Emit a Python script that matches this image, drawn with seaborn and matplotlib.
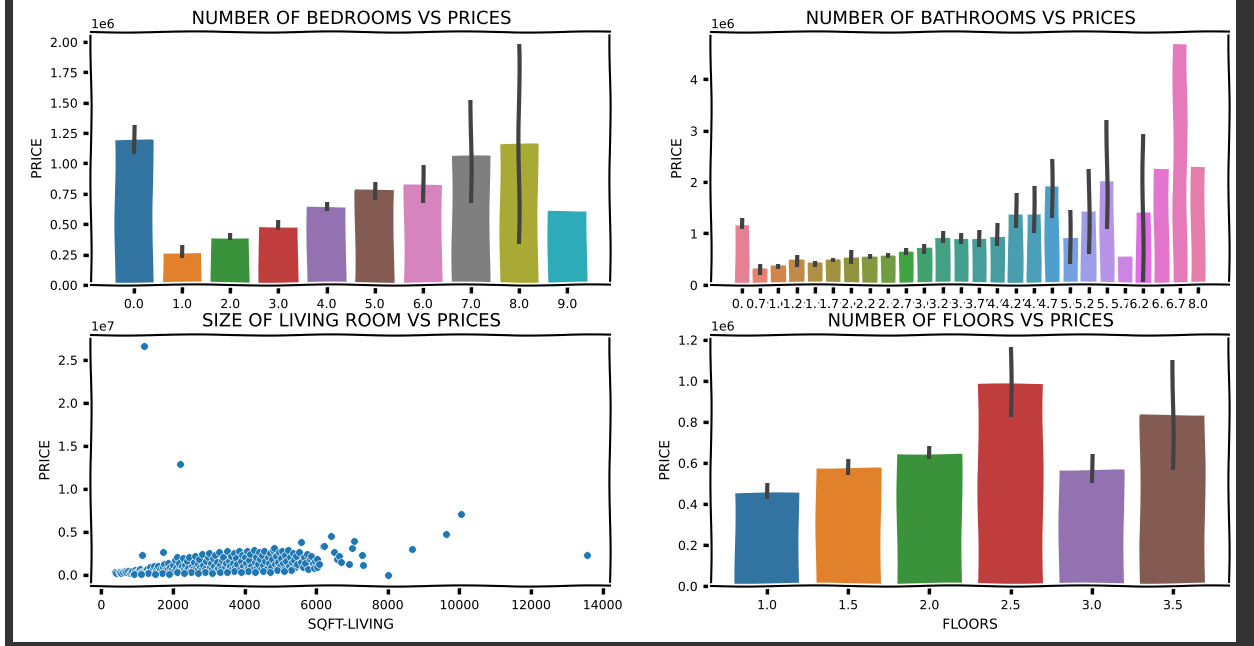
import numpy as np
import pandas as pd
import matplotlib
matplotlib.use("Agg")
import matplotlib.pyplot as plt
from matplotlib.patches import Rectangle
import seaborn as sns

# ---------------- data ----------------
bedroom_labels = ["0.0", "1.0", "2.0", "3.0", "4.0", "5.0", "6.0", "7.0", "8.0", "9.0"]
bedroom_price = [1.19, 0.26, 0.39, 0.48, 0.64, 0.78, 0.82, 1.06, 1.16, 0.61]          # 1e6
bedroom_ci_lo = [1.08, 0.22, 0.37, 0.45, 0.61, 0.70, 0.67, 0.67, 0.34, np.nan]
bedroom_ci_hi = [1.32, 0.33, 0.43, 0.53, 0.68, 0.85, 0.99, 1.52, 1.98, np.nan]

bath_labels = ["0.0", "0.75", "1.0", "1.25", "1.5", "1.75", "2.0", "2.25", "2.5", "2.75",
               "3.0", "3.25", "3.5", "3.75", "4.0", "4.25", "4.5", "4.75", "5.0", "5.25",
               "5.5", "5.75", "6.25", "6.5", "6.75", "8.0"]
bath_price = [1.16, 0.31, 0.36, 0.49, 0.42, 0.49, 0.53, 0.55, 0.57, 0.64,
              0.72, 0.91, 0.89, 0.89, 0.94, 1.37, 1.37, 1.93, 0.91, 1.43,
              2.03, 0.55, 1.41, 2.26, 4.68, 2.30]
bath_ci_lo = [1.08, 0.20, 0.30, 0.35, 0.35, 0.44, 0.40, 0.50, 0.53, 0.58,
              0.60, 0.82, 0.80, 0.73, 0.75, 1.10, 1.00, 1.30, 0.40, 0.60,
              1.08, np.nan, 0.05, np.nan, np.nan, np.nan]
bath_ci_hi = [1.30, 0.40, 0.40, 0.58, 0.47, 0.53, 0.68, 0.60, 0.62, 0.72,
              0.80, 1.05, 1.00, 1.07, 1.20, 1.78, 1.93, 2.45, 1.45, 2.25,
              3.20, np.nan, 2.93, np.nan, np.nan, np.nan]

floor_labels = ["1.0", "1.5", "2.0", "2.5", "3.0", "3.5"]
floor_price = [0.453, 0.577, 0.645, 0.985, 0.564, 0.831]
floor_ci_lo = [0.426, 0.540, 0.620, 0.823, 0.504, 0.564]
floor_ci_hi = [0.500, 0.620, 0.680, 1.166, 0.641, 1.100]

sqft_living = [
    370, 420, 480, 520, 560, 610, 650, 700, 740, 790,
    820, 860, 900, 940, 980, 1010, 1050, 1090, 1120, 1126, 1150, 1180, 1190,
    1220, 1250, 1280, 1310, 1340, 1370, 1400, 1430, 1460, 1500, 1530, 1560, 1590,
    1620, 1650, 1680, 1715, 1720, 1750, 1780, 1810, 1840, 1870, 1900, 1930, 1960, 1990,
    2020, 2050, 2080, 2108, 2130, 2160, 2190, 2200, 2240, 2270, 2300, 2330, 2360, 2390, 2420, 2450, 2480,
    2520, 2550, 2580, 2610, 2640, 2670, 2700, 2730, 2760, 2790, 2820, 2850, 2880, 2910, 2940, 2970,
    2994, 3020, 3050, 3080, 3110, 3140, 3170, 3200, 3230, 3260, 3290, 3320, 3350, 3380, 3410, 3440, 3470,
    3500, 3530, 3560, 3590, 3620, 3650, 3680, 3710, 3740, 3770, 3800, 3830, 3860, 3890, 3920, 3950, 3980,
    4010, 4040, 4070, 4100, 4130, 4160, 4190, 4220, 4250, 4280, 4310, 4340, 4370, 4400, 4430, 4460, 4490,
    4520, 4550, 4580, 4610, 4640, 4670, 4700, 4730, 4760, 4790, 4816, 4840, 4870, 4900, 4930, 4960, 4990,
    5020, 5050, 5080, 5110, 5140, 5170, 5200, 5230, 5260, 5290, 5320, 5350, 5380, 5410, 5440, 5470,
    5520, 5564, 5580, 5620, 5660, 5700, 5740, 5780, 5820, 5860, 5900, 5940, 5980, 6030, 6030, 6080,
    6200, 6218, 6424, 6500, 6592, 6650, 6700, 6918, 6990, 7059, 7265, 7293, 8012, 8675, 9628, 10057, 13552,
    900, 1300, 1700, 2100, 2500, 2900, 3300, 3700, 4100, 4500, 4900, 5300,
    1100, 1500, 1900, 2300, 2700, 3100, 3500, 3900, 4300, 4700, 5100,
]
price_musd = [
    0.28, 0.15, 0.25, 0.35, 0.20, 0.30, 0.45, 0.25, 0.38, 0.18,
    0.30, 0.42, 0.22, 0.55, 0.35, 0.28, 0.48, 0.60, 0.33, 2.30, 0.45, 26.59, 0.25,
    0.38, 0.52, 0.70, 0.30, 0.45, 0.85, 0.40, 0.60, 0.95, 0.28, 0.50, 0.75, 1.05,
    0.35, 0.62, 0.48, 2.67, 0.90, 1.20, 0.40, 0.70, 0.55, 1.40, 0.32, 0.85, 0.60, 1.10,
    0.45, 1.70, 0.75, 2.10, 0.55, 1.30, 12.90, 0.38, 0.95, 1.90, 0.65, 1.15, 0.50, 1.60, 0.80, 2.00, 0.42,
    1.05, 0.60, 1.45, 2.20, 0.75, 0.48, 1.25, 1.80, 0.90, 0.55, 2.40, 1.10, 0.70, 1.60, 0.45, 2.00,
    2.50, 0.85, 1.35, 0.60, 1.90, 1.00, 2.30, 0.50, 1.50, 0.75, 2.60, 1.15, 0.65, 1.75, 2.10, 0.90, 1.30,
    2.70, 0.55, 1.60, 1.00, 2.20, 0.70, 1.40, 2.50, 0.85, 1.90, 1.20, 2.80, 0.60, 1.55, 2.30, 1.00, 0.45,
    2.00, 1.30, 2.70, 0.80, 1.70, 2.40, 1.05, 0.55, 2.90, 1.50, 2.10, 0.90, 1.25, 2.60, 1.80, 0.70, 2.30,
    1.10, 2.75, 1.60, 0.65, 2.00, 1.35, 2.50, 0.90, 1.80, 2.85, 3.10, 1.20, 2.20, 0.75, 1.50, 2.60, 1.00,
    1.90, 2.70, 1.30, 0.60, 2.30, 1.60, 2.90, 1.00, 2.00, 0.55, 1.45, 2.50, 1.75, 0.85, 2.20, 1.20,
    2.60, 3.76, 1.50, 0.90, 2.10, 1.30, 2.45, 0.70, 1.85, 2.20, 1.30, 0.80, 1.60, 0.86, 1.83, 1.20,
    3.30, 3.37, 4.50, 2.60, 1.80, 2.20, 1.50, 1.24, 3.12, 3.90, 2.29, 1.16, 0.00, 2.99, 4.73, 7.10, 2.29,
    0.10, 0.15, 0.20, 0.25, 0.30, 0.30, 0.35, 0.40, 0.40, 0.45, 0.50, 0.50,
    0.05, 0.10, 0.12, 0.18, 0.20, 0.22, 0.25, 0.30, 0.30, 0.35, 0.40,
]

# ---------------- style ----------------
plt.xkcd(scale=0.6, length=150, randomness=2)
plt.rcParams["font.family"] = ["DejaVu Sans"]
plt.rcParams["xtick.labelsize"] = 9
plt.rcParams["ytick.labelsize"] = 9
plt.rcParams["axes.labelsize"] = 10
plt.rcParams["axes.titlesize"] = 13
plt.rcParams["xtick.major.size"] = 6
plt.rcParams["ytick.major.size"] = 6
plt.rcParams["xtick.major.width"] = 2.5
plt.rcParams["ytick.major.width"] = 2.5

fig = plt.figure(figsize=(12.54, 6.46), dpi=100)
ax_bed = fig.add_axes([0.0726, 0.559, 0.414, 0.391])
ax_bath = fig.add_axes([0.567, 0.559, 0.413, 0.391])
ax_liv = fig.add_axes([0.0726, 0.0929, 0.414, 0.389])
ax_flo = fig.add_axes([0.567, 0.0929, 0.413, 0.389])


def bar_panel(ax, labels, values, lo, hi, palette, title, xlabel):
    df = pd.DataFrame({"cat": labels, "price": np.array(values) * 1e6})
    sns.barplot(data=df, x="cat", y="price", hue="cat", palette=palette,
                legend=False, errorbar=None, ax=ax, order=labels, hue_order=labels)
    pos = np.arange(len(labels))
    ax.vlines(pos, np.array(lo) * 1e6, np.array(hi) * 1e6, color=".26", lw=3)
    ax.set_title(title)
    ax.set_xlabel(xlabel)
    ax.set_ylabel("PRICE")


bar_panel(ax_bed, bedroom_labels, bedroom_price, bedroom_ci_lo, bedroom_ci_hi,
          "tab10", "NUMBER OF BEDROOMS VS PRICES", "")
bar_panel(ax_bath, bath_labels, bath_price, bath_ci_lo, bath_ci_hi,
          "husl", "NUMBER OF BATHROOMS VS PRICES", "")
bar_panel(ax_flo, floor_labels, floor_price, floor_ci_lo, floor_ci_hi,
          "tab10", "NUMBER OF FLOORS VS PRICES", "FLOORS")

liv = pd.DataFrame({"sqft_living": sqft_living, "price": np.array(price_musd) * 1e6})
sns.scatterplot(data=liv, x="sqft_living", y="price", ax=ax_liv, color="#1f77b4", s=30)
ax_liv.set_xticks([0, 2000, 4000, 6000, 8000, 10000, 12000, 14000])
ax_liv.set_title("SIZE OF LIVING ROOM VS PRICES")
ax_liv.set_xlabel("SQFT-LIVING")
ax_liv.set_ylabel("PRICE")

# screenshot frame
for (x0, y0, w, h) in [(5 / 1254, 0, 8 / 1254, 1), (1236 / 1254, 0, 18 / 1254, 1),
                       (5 / 1254, 0, 1231 / 1254, 4 / 646)]:
    r = Rectangle((x0, y0), w, h, transform=fig.transFigure, facecolor="#333333",
                  edgecolor="none", linewidth=0, zorder=10)
    r.set_path_effects([])
    r.set_sketch_params(None)
    fig.add_artist(r)

fig.savefig("out.png", dpi=100)
